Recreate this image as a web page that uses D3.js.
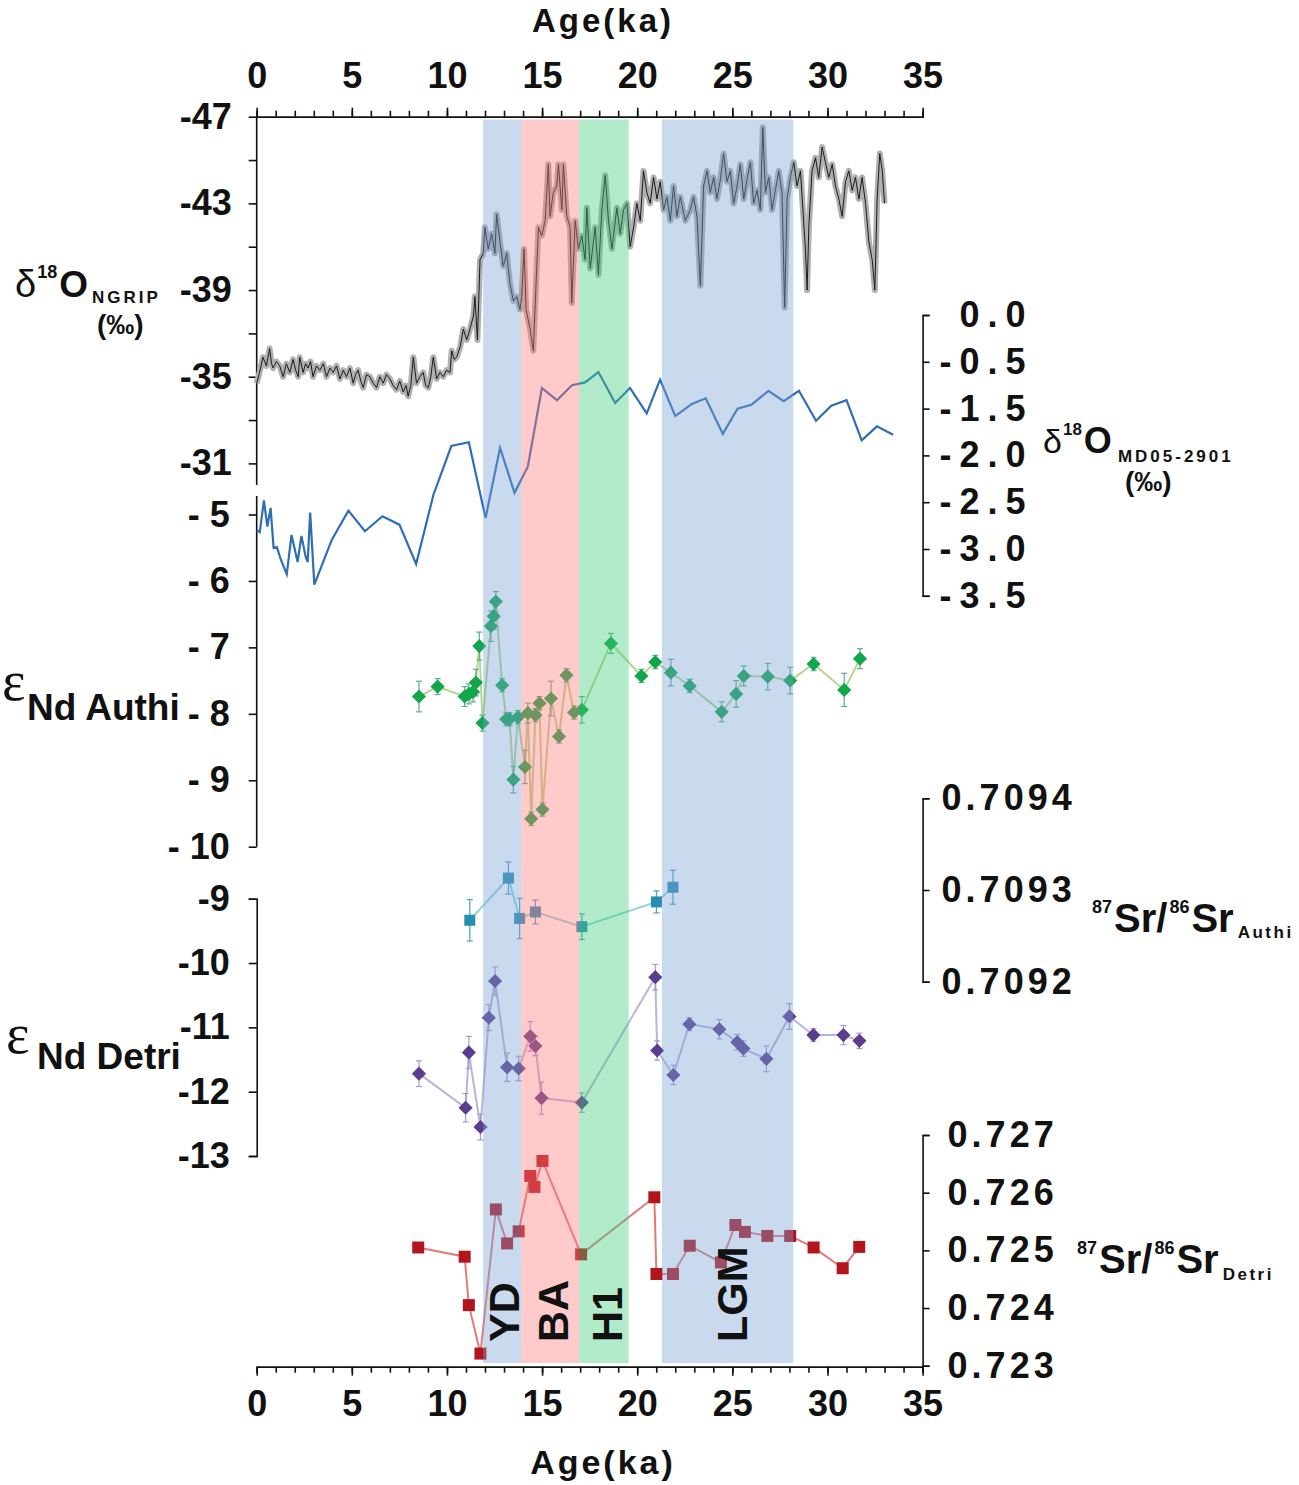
<!DOCTYPE html>
<html>
<head>
<meta charset="utf-8">
<script src="https://cdn.jsdelivr.net/npm/d3@7"></script>
<style>
  body { margin: 0; background: #fff; }
</style>
</head>
<body>
<div id="chart-area"></div>
<script>
var FONT = "'Liberation Sans', Arial, Helvetica, sans-serif";
var SERIF = "'Liberation Serif', 'Times New Roman', serif";

// ---- data ----
// NGRIP d18O: [age ka, permil]
var ngrip = [
  [0,-34.7],[0.15,-35.2],[0.33,-35.9],[0.51,-35.5],[0.68,-36.3],[0.78,-35.6],[0.86,-35.4],[1.03,-35.7],
  [1.21,-35.5],[1.39,-35.0],[1.56,-35.6],[1.74,-35.2],[1.91,-35.8],[2.05,-35.3],[2.18,-35.0],[2.26,-35.9],
  [2.44,-35.2],[2.57,-35.6],[2.7,-35.4],[2.83,-35.7],[2.96,-35.0],[3.14,-35.5],[3.32,-35.3],[3.5,-35.6],
  [3.67,-35.0],[3.85,-35.4],[4.02,-35.2],[4.2,-35.5],[4.37,-34.9],[4.55,-35.3],[4.72,-35.0],[4.9,-35.4],
  [5.07,-34.7],[5.2,-35.1],[5.33,-35.3],[5.47,-34.8],[5.6,-34.5],[5.77,-35.1],[5.95,-35.0],[6.12,-34.7],
  [6.3,-34.5],[6.47,-35.0],[6.65,-34.7],[6.82,-35.1],[7.0,-34.9],[7.17,-34.6],[7.35,-34.4],[7.52,-34.8],
  [7.7,-34.3],[7.85,-34.6],[7.96,-34.1],[8.1,-34.6],[8.23,-35.9],[8.4,-34.7],[8.58,-35.0],[8.75,-35.2],
  [8.88,-34.6],[9.02,-34.5],[9.15,-35.0],[9.28,-35.9],[9.46,-34.9],[9.63,-35.2],[9.81,-35.0],[9.98,-35.3],
  [10.16,-35.2],[10.25,-36.2],[10.38,-35.8],[10.51,-35.9],[10.7,-36.4],[10.86,-37.2],[11.04,-36.7],
  [11.21,-37.2],[11.39,-37.8],[11.47,-38.7],[11.6,-36.7],[11.74,-40.4],[11.91,-40.7],[11.99,-41.9],
  [12.17,-40.9],[12.35,-41.6],[12.52,-40.7],[12.61,-42.5],[12.79,-41.2],[12.96,-40.1],[13.14,-40.7],
  [13.31,-39.3],[13.49,-38.5],[13.67,-38.7],[13.84,-38.1],[13.93,-38.7],[14.05,-40.9],[14.16,-38.1],
  [14.37,-37.2],[14.54,-36.2],[14.72,-40.1],[14.81,-41.9],[14.98,-41.5],[15.16,-42.2],[15.33,-44.8],
  [15.42,-42.4],[15.59,-43.5],[15.77,-43.8],[15.86,-44.8],[16.04,-42.7],[16.12,-44.8],[16.3,-42.4],
  [16.47,-41.9],[16.56,-38.4],[16.74,-42.2],[16.91,-40.9],[17.09,-41.5],[17.26,-40.4],[17.35,-42.8],
  [17.53,-40.0],[17.79,-41.9],[17.96,-39.7],[18.14,-42.7],[18.32,-44.3],[18.49,-42.2],[18.67,-40.9],
  [18.93,-42.8],[19.11,-41.6],[19.28,-42.7],[19.46,-43.0],[19.63,-41.0],[19.81,-41.9],[19.98,-43.0],
  [20.16,-42.2],[20.33,-44.5],[20.51,-43.5],[20.68,-43.0],[20.86,-44.2],[21.04,-43.2],[21.21,-44.0],
  [21.39,-42.7],[21.56,-43.3],[21.74,-42.2],[21.91,-43.8],[22.09,-42.4],[22.26,-43.3],[22.53,-42.2],
  [22.79,-42.7],[22.96,-43.3],[23.14,-42.4],[23.32,-39.2],[23.49,-43.8],[23.67,-44.5],[23.84,-43.5],
  [24.02,-44.2],[24.19,-43.2],[24.37,-44.1],[24.54,-45.3],[24.72,-44.0],[24.89,-44.5],[25.07,-43.0],
  [25.25,-43.8],[25.42,-44.8],[25.6,-43.2],[25.77,-44.1],[25.95,-44.9],[26.12,-43.0],[26.3,-43.6],
  [26.47,-42.7],[26.6,-46.5],[26.74,-43.5],[26.91,-44.2],[27.09,-42.7],[27.26,-43.6],[27.44,-44.5],
  [27.61,-43.5],[27.75,-38.2],[27.88,-43.2],[28.05,-44.2],[28.23,-44.9],[28.4,-43.8],[28.58,-44.5],
  [28.84,-40.9],[28.93,-39.0],[29.02,-41.9],[29.19,-44.5],[29.37,-45.1],[29.54,-44.2],[29.72,-45.6],
  [29.89,-44.9],[30.07,-44.2],[30.25,-44.8],[30.42,-43.8],[30.6,-43.2],[30.77,-42.4],[30.95,-44.0],
  [31.12,-44.5],[31.3,-43.6],[31.47,-44.2],[31.65,-43.2],[31.82,-44.2],[32.0,-43.0],[32.18,-41.2],
  [32.35,-40.4],[32.49,-39.0],[32.61,-43.2],[32.75,-45.3],[32.88,-44.5],[33.0,-43.0]
];

// MD05-2901 d18O: [age, permil]
var md05 = [
  [0,-2.30],[0.16,-2.32],[0.38,-1.98],[0.56,-2.26],[0.73,-2.06],[0.89,-2.49],[1.06,-2.48],[1.28,-2.62],
  [1.58,-2.77],[1.83,-2.35],[2.15,-2.64],[2.35,-2.36],[2.57,-2.58],[2.68,-2.64],[2.81,-2.11],[3.03,-2.88],
  [3.95,-2.40],[4.82,-2.09],[5.69,-2.31],[6.61,-2.15],[7.5,-2.24],[8.38,-2.66],[9.29,-1.92],[10.23,-1.40],
  [11.15,-1.36],[12.03,-2.17],[12.79,-1.42],[13.55,-1.90],[14.25,-1.62],[14.99,-0.78],[15.78,-0.91],
  [16.57,-0.75],[17.26,-0.72],[17.96,-0.61],[18.84,-0.94],[19.62,-0.78],[20.5,-1.05],[21.2,-0.69],
  [22.0,-1.08],[22.87,-0.95],[23.6,-0.89],[24.5,-1.27],[25.27,-1.00],[26.0,-0.96],[26.9,-0.81],
  [27.7,-0.92],[28.5,-0.81],[29.4,-1.13],[30.2,-0.97],[31.0,-0.91],[31.8,-1.34],[32.6,-1.19],[33.45,-1.28]
];

// eNd authigenic: [age, eNd, 2sd]
var ndAuthi = [
  [8.53,-7.74,0.23],[9.51,-7.59,0.12],[10.93,-7.74,0.15],[11.15,-7.70,0.15],[11.37,-7.67,0.15],
  [11.52,-7.53,0.2],[11.7,-6.98,0.21],[11.87,-8.14,0.12],[12.31,-6.68,0.23],[12.46,-6.53,0.2],
  [12.57,-6.31,0.15],[12.9,-7.57,0.1],[13.12,-8.08,0.1],[13.29,-8.08,0.1],[13.49,-8.99,0.2],
  [13.73,-8.05,0.1],[14.1,-8.80,0.25],[14.25,-7.99,0.15],[14.43,-9.58,0.1],[14.65,-8.02,0.1],
  [14.86,-7.84,0.1],[15.02,-9.44,0.1],[15.47,-7.77,0.26],[15.89,-8.34,0.1],[16.28,-7.42,0.1],
  [16.68,-7.98,0.1],[17.09,-7.94,0.2],[18.62,-6.94,0.15],[20.22,-7.43,0.1],[20.95,-7.22,0.1],
  [21.77,-7.38,0.2],[22.76,-7.58,0.1],[24.44,-7.97,0.15],[25.2,-7.70,0.2],[25.6,-7.43,0.15],
  [26.86,-7.44,0.2],[28.04,-7.50,0.2],[29.27,-7.25,0.1],[30.88,-7.64,0.25],[31.71,-7.17,0.15]
];

// 87Sr/86Sr authigenic: [age, ratio, 2sd]
var srAuthi = [
  [11.2,0.709267,0.0000226],[13.23,0.709313,0.0000175],[13.82,0.709269,0.000022],
  [14.65,0.709276,0.000013],[17.09,0.709260,0.000014],[21.01,0.709287,0.000012],[21.88,0.709303,0.0000185]
];

// eNd detrital: [age, eNd, 2sd]
var ndDetri = [
  [8.53,-11.72,0.2],[10.98,-12.25,0.22],[11.15,-11.39,0.25],[11.76,-12.55,0.2],[12.2,-10.85,0.2],
  [12.53,-10.28,0.22],[13.16,-11.62,0.22],[13.77,-11.64,0.19],[14.38,-11.14,0.23],[14.65,-11.29,0.15],
  [14.97,-12.10,0.25],[17.09,-12.17,0.15],[20.95,-10.22,0.2],[21.05,-11.36,0.15],[21.9,-11.74,0.15],
  [22.74,-10.95,0.1],[24.32,-11.03,0.15],[25.26,-11.23,0.12],[25.58,-11.33,0.12],[26.79,-11.49,0.2],
  [28.0,-10.83,0.2],[29.26,-11.12,0.1],[30.84,-11.12,0.15],[31.68,-11.21,0.12]
];

// 87Sr/86Sr detrital: [age, ratio]
var srDetri = [
  [8.49,0.72505],[10.93,0.72489],[11.15,0.72405],[11.76,0.72321],[12.57,0.72571],[13.16,0.72512],
  [13.77,0.72533],[14.38,0.72629],[14.6,0.72610],[15.02,0.72655],[17.05,0.72493],[20.9,0.72592],
  [21.01,0.72459],[21.88,0.72459],[22.76,0.72508],[24.4,0.72479],[25.16,0.72544],[25.66,0.72532],
  [26.84,0.72525],[28.04,0.72525],[29.27,0.72505],[30.8,0.72469],[31.67,0.72506]
];

// climate intervals
var bandNames = ["YD", "BA", "H1", "LGM"];
var bandStart = [11.9, 13.9, 16.95, 21.3];
var bandEnd = [13.9, 16.95, 19.55, 28.2];

// tick values / labels
var ageTicks = [0, 5, 10, 15, 20, 25, 30, 35];
var ngripTicks = [-47, -43, -39, -35, -31];
var mdTicks = [0, -0.5, -1, -1.5, -2, -2.5, -3];
var mdTickLabels = ["0.0", "-0.5", "-1.5", "-2.0", "-2.5", "-3.0", "-3.5"];
var ndAuthiTicks = [-5, -6, -7, -8, -9, -10];
var ndAuthiTickLabels = ["- 5", "- 6", "- 7", "- 8", "- 9", "- 10"];
var srAuthiTicks = [0.7094, 0.7093, 0.7092];
var ndDetriTicks = [-9, -10, -11, -12, -13];
var srDetriTicks = [0.727, 0.726, 0.725, 0.724, 0.723];

// ---- layout ----
var svg = d3.select("#chart-area")
  .append("svg")
  .attr("width", 1299)
  .attr("height", 1485)
  .style("font-family", FONT);

var x = d3.scaleLinear().domain([0, 35]).range([256.7, 922.6]);
var yNg = d3.scaleLinear().domain([-47, -31]).range([116.7, 463.4]);
var yMd = d3.scaleLinear().domain([0, -3]).range([315, 595.8]);
var yNa = d3.scaleLinear().domain([-5, -10]).range([514.5, 846.7]);
var ySa = d3.scaleLinear().domain([0.7094, 0.7092]).range([798.3, 981.7]);
var yNd = d3.scaleLinear().domain([-9, -13]).range([898.7, 1156]);
var ySd = d3.scaleLinear().domain([0.727, 0.723]).range([1135, 1365.7]);

var bandColor = ["#78a2d4", "#ff7a7a", "#3ecd78", "#78a2d4"];

function styleAxis(g, size) {
  g.attr("font-family", FONT).attr("font-size", size);
  g.selectAll("path, line").attr("stroke", "#111").attr("stroke-width", 1.6);
  g.selectAll("text").attr("fill", "#111").attr("font-weight", "bold");
}

// Top age axis
svg.append("g")
  .attr("transform", "translate(0,116.7)")
  .call(d3.axisTop(x).tickValues(d3.range(0, 36)).tickSize(6).tickFormat(""))
  .call(styleAxis, 36);
svg.append("g")
  .attr("transform", "translate(0,116.7)")
  .call(d3.axisTop(x).tickValues(ageTicks).tickSize(9).tickSizeOuter(0).tickPadding(20))
  .call(styleAxis, 36);

// Bottom age axis
svg.append("g")
  .attr("transform", "translate(0,1366.7)")
  .call(d3.axisBottom(x).tickValues(d3.range(0, 36)).tickSize(6).tickFormat(""))
  .call(styleAxis, 36);
svg.append("g")
  .attr("transform", "translate(0,1366.7)")
  .call(d3.axisBottom(x).tickValues(ageTicks).tickSize(9).tickSizeOuter(0).tickPadding(15))
  .call(styleAxis, 36);

// NGRIP axis
var ngAxis = svg.append("g")
  .attr("transform", "translate(256.7,0)")
  .call(d3.axisLeft(yNg).tickValues(d3.range(-47, -30, 2)).tickSize(8).tickPadding(17)
    .tickFormat(d => ngripTicks.indexOf(d) >= 0 ? String(d) : ""))
  .call(styleAxis, 36);
ngAxis.select(".domain").remove();
ngAxis.append("line")
  .attr("y1", yNg(-47)).attr("y2", yNg(-30))
  .attr("stroke", "#111").attr("stroke-width", 1.6);

// eNd authi axis
var naAxis = svg.append("g")
  .attr("transform", "translate(256.7,0)")
  .call(d3.axisLeft(yNa).tickValues(ndAuthiTicks).tickSize(8).tickPadding(19)
    .tickFormat((d, i) => ndAuthiTickLabels[i]))
  .call(styleAxis, 36);
naAxis.select(".domain").remove();
naAxis.append("line")
  .attr("y1", yNa(-4.72)).attr("y2", yNa(-10))
  .attr("stroke", "#111").attr("stroke-width", 1.6);

// eNd detri axis
svg.append("g")
  .attr("transform", "translate(256.7,0)")
  .call(d3.axisLeft(yNd).tickValues(ndDetriTicks).tickSize(8).tickSizeOuter(8).tickPadding(19)
    .tickFormat(d => String(d)))
  .call(styleAxis, 36);

// MD05 axis (right)
var mdAxis = svg.append("g")
  .attr("transform", "translate(922.6,0)")
  .call(d3.axisRight(yMd).tickValues(mdTicks).tickSize(7).tickSizeOuter(7)
    .tickFormat((d, i) => mdTickLabels[i]))
  .call(styleAxis, 36);
mdAxis.selectAll("text")
  .attr("text-anchor", "end")
  .attr("x", 111)
  .attr("letter-spacing", 8);

// Sr authi axis (right)
svg.append("g")
  .attr("transform", "translate(922.6,0)")
  .call(d3.axisRight(ySa).tickValues(srAuthiTicks).tickSize(7).tickSizeOuter(7).tickPadding(12)
    .tickFormat(d3.format(".4f")))
  .call(styleAxis, 36)
  .selectAll("text").attr("letter-spacing", 4);

// Sr detri axis (right)
svg.append("g")
  .attr("transform", "translate(922.6,0)")
  .call(d3.axisRight(ySd).tickValues(srDetriTicks).tickSize(7).tickSizeOuter(7).tickPadding(18)
    .tickFormat(d3.format(".3f")))
  .call(styleAxis, 36)
  .selectAll("text").attr("letter-spacing", 4);

// ---- series ----
var ngLine = d3.line().x(d => x(d[0])).y(d => yNg(d[1]));
svg.append("path").datum(ngrip)
  .attr("d", ngLine).attr("fill", "none")
  .attr("stroke", "#b0b0b0").attr("stroke-width", 6).attr("stroke-linejoin", "round");
svg.append("path").datum(ngrip)
  .attr("d", ngLine).attr("fill", "none")
  .attr("stroke", "#1a1a1a").attr("stroke-width", 1);

svg.append("path").datum(md05)
  .attr("d", d3.line().x(d => x(d[0])).y(d => yMd(d[1])))
  .attr("fill", "none").attr("stroke", "#2f6db5").attr("stroke-width", 2.2);

function drawSeries(data, yScale, lineColor, errColor, markColor, shape, side) {
  var grp = svg.append("g");
  grp.append("path").datum(data)
    .attr("d", d3.line().x(d => x(d[0])).y(d => yScale(d[1])))
    .attr("fill", "none").attr("stroke", lineColor).attr("stroke-width", 2);

  if (errColor) {
    var err = grp.selectAll(".err").data(data).enter().append("g")
      .attr("stroke", errColor).attr("stroke-width", 1.2);
    err.append("line")
      .attr("x1", d => x(d[0])).attr("x2", d => x(d[0]))
      .attr("y1", d => yScale(d[1] - d[2])).attr("y2", d => yScale(d[1] + d[2]));
    err.append("line")
      .attr("x1", d => x(d[0]) - 3).attr("x2", d => x(d[0]) + 3)
      .attr("y1", d => yScale(d[1] - d[2])).attr("y2", d => yScale(d[1] - d[2]));
    err.append("line")
      .attr("x1", d => x(d[0]) - 3).attr("x2", d => x(d[0]) + 3)
      .attr("y1", d => yScale(d[1] + d[2])).attr("y2", d => yScale(d[1] + d[2]));
  }

  grp.selectAll(".mark").data(data).enter().append("path")
    .attr("d", d3.symbol().type(d3.symbolSquare).size(side * side))
    .attr("transform", d => "translate(" + x(d[0]) + "," + yScale(d[1]) + ")" + (shape === "diamond" ? " rotate(45)" : ""))
    .attr("fill", markColor);
}

drawSeries(ndAuthi, yNa, "#b5d68e", "#5aae96", "#11a64b", "diamond", 10);
drawSeries(srAuthi, ySa, "#93d2e4", "#4a9fc0", "#2a8caf", "square", 11);
drawSeries(ndDetri, yNd, "#bab3da", "#a49cc8", "#5a3d8c", "diamond", 10);
drawSeries(srDetri, ySd, "#e27a7a", null, "#b3151d", "square", 12);

// ---- climate bands (overlaid) ----
svg.selectAll(".band")
  .data(bandNames)
  .enter()
  .append("rect")
  .attr("x", (d, i) => x(bandStart[i]))
  .attr("width", (d, i) => x(bandEnd[i]) - x(bandStart[i]))
  .attr("y", 119.5)
  .attr("height", 1363 - 119.5)
  .attr("fill", (d, i) => bandColor[i])
  .attr("fill-opacity", 0.4);

var labelX = [519, 568, 622, 747];
svg.selectAll(".bandLabel")
  .data(bandNames)
  .enter()
  .append("text")
  .attr("transform", (d, i) => "translate(" + labelX[i] + ",1342) rotate(-90)")
  .attr("font-size", 43)
  .attr("font-weight", "bold")
  .attr("fill", "#111")
  .text(d => d);

// ---- titles ----
function put(str, px, py, size, weight, ls, family) {
  return svg.append("text")
    .attr("x", px).attr("y", py)
    .attr("font-size", size)
    .attr("font-weight", weight)
    .attr("letter-spacing", ls || 0)
    .attr("font-family", family || FONT)
    .attr("fill", "#111")
    .text(str);
}

// flowing title built from tspans: [text, size, weight, dx, dy, letterSpacing, family]
function flow(px, py, parts) {
  var t = svg.append("text").attr("x", px).attr("y", py).attr("fill", "#111");
  parts.forEach(function(p) {
    t.append("tspan")
      .attr("font-size", p[1])
      .attr("font-weight", p[2])
      .attr("dx", p[3])
      .attr("dy", p[4])
      .attr("letter-spacing", p[5] || 0)
      .attr("font-family", p[6] || FONT)
      .text(p[0]);
  });
  return t;
}

put("Age(ka)", 603, 32, 33, "bold", 3).attr("text-anchor", "middle");
put("Age(ka)", 603, 1474, 34, "bold", 3).attr("text-anchor", "middle");

flow(15, 297, [
  ["\u03b4", 38, "normal", 0, 0],
  ["18", 18, "bold", 1, -19],
  ["O", 37, "bold", 2, 19],
  ["NGRIP", 17, "bold", 4, 6, 3]
]);
put("(\u2030)", 97, 334, 28, "bold");

flow(1043, 453, [
  ["\u03b4", 34, "normal", 0, 0],
  ["18", 17, "bold", 1, -18],
  ["O", 36, "bold", 2, 18],
  ["MD05-2901", 17, "bold", 6, 9, 3]
]);
put("(\u2030)", 1125, 491, 28, "bold");

put("\u03b5", 2, 700, 56, "normal", 0, SERIF);
put("Nd Authi", 27, 720, 37, "bold");
put("\u03b5", 6, 1053, 56, "normal", 0, SERIF);
put("Nd Detri", 37, 1069, 37, "bold");

flow(1092, 932, [
  ["87", 18, "bold", 0, -19],
  ["Sr/", 40, "bold", 2, 19],
  ["86", 18, "bold", 2, -19],
  ["Sr", 40, "bold", 2, 19],
  ["Authi", 17, "bold", 4, 6, 2.5]
]);

flow(1077, 1273, [
  ["87", 18, "bold", 0, -19],
  ["Sr/", 40, "bold", 2, 19],
  ["86", 18, "bold", 2, -19],
  ["Sr", 40, "bold", 2, 19],
  ["Detri", 17, "bold", 4, 7, 2.5]
]);
</script>
</body>
</html>
